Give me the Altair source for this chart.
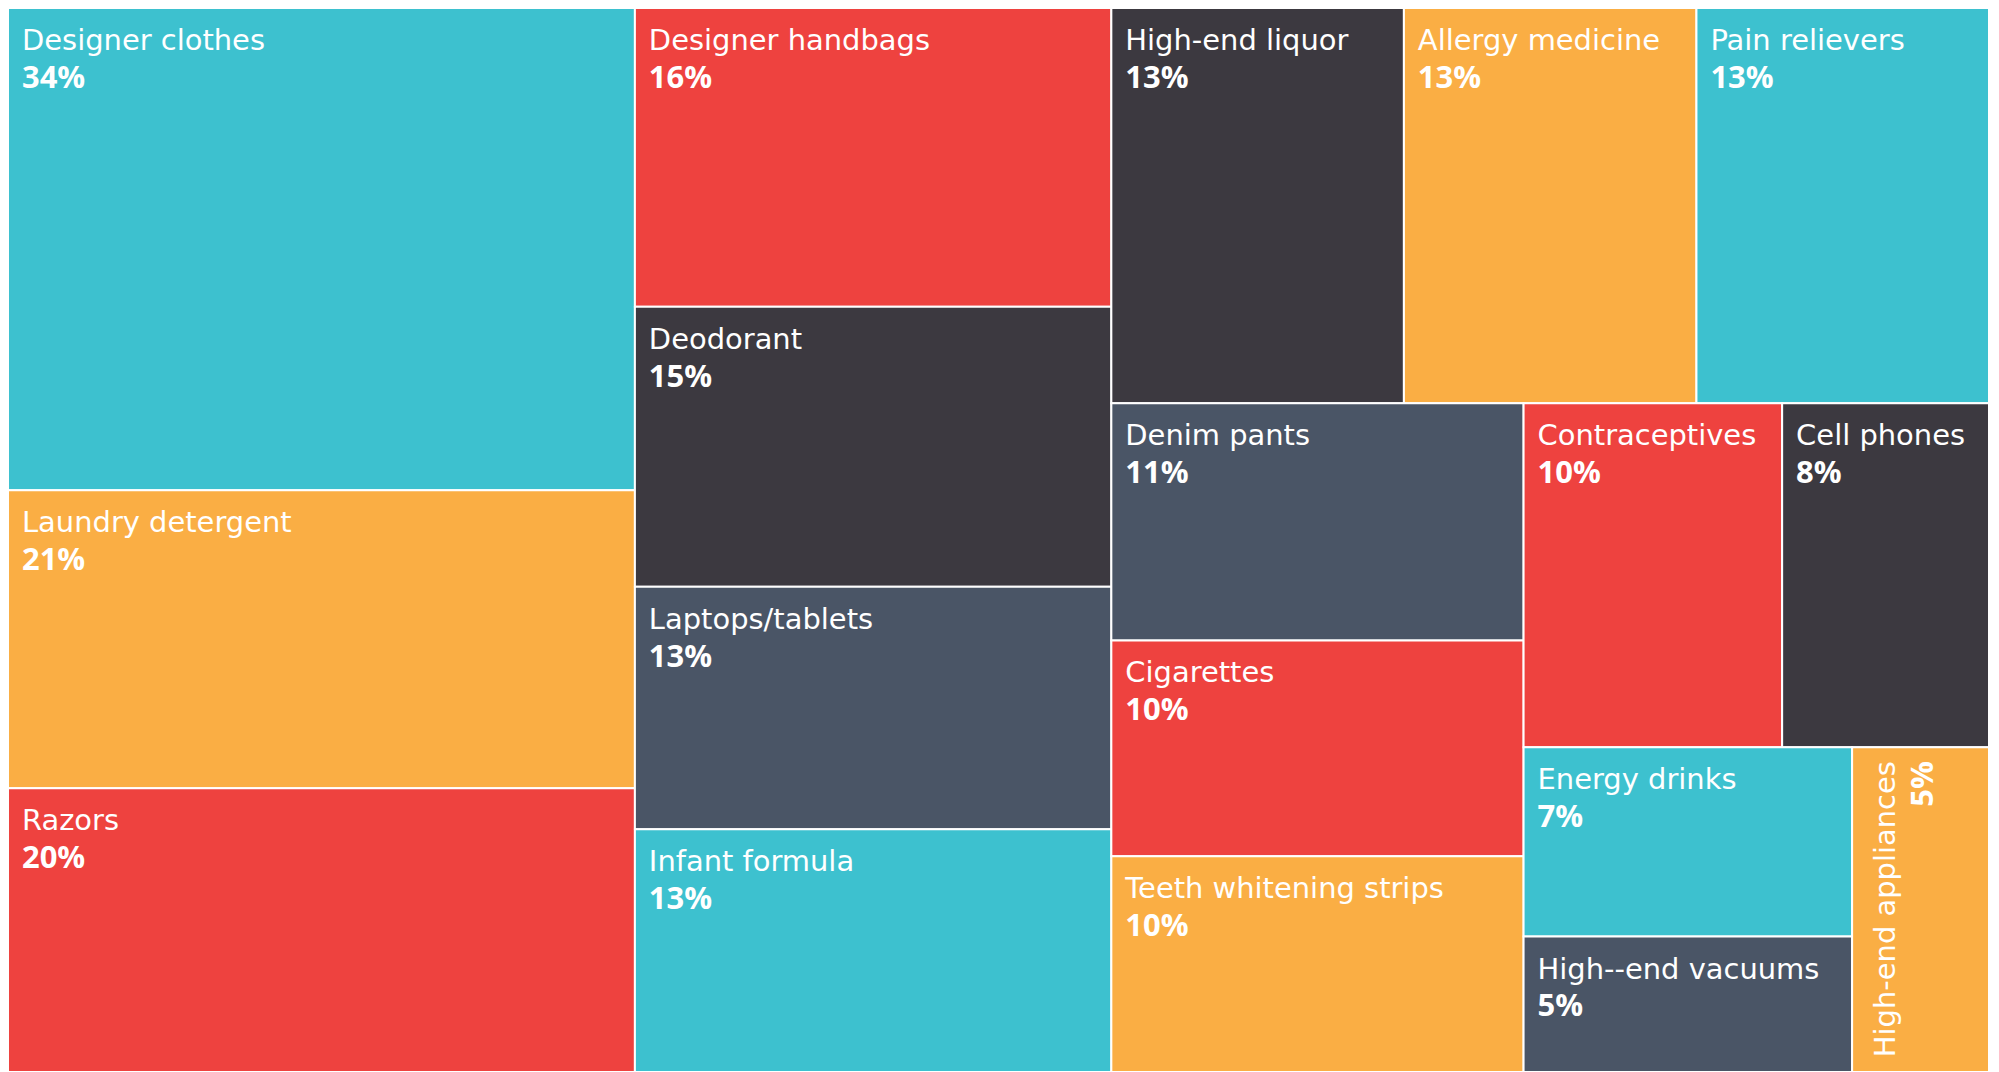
import altair as alt
import pandas as pd

# ---- data ----
names = [
    "Designer clothes", "Laundry detergent", "Razors", "Designer handbags",
    "Deodorant", "Laptops/tablets", "Infant formula", "High-end liquor",
    "Allergy medicine", "Pain relievers", "Denim pants", "Cigarettes",
    "Teeth whitening strips", "Contraceptives", "Cell phones", "Energy drinks",
    "High--end vacuums", "High-end appliances",
]
values = [34, 21, 20, 16, 15, 13, 13, 13, 13, 13, 11, 10, 10, 10, 8, 7, 5, 5]
groups = [
    "teal", "orange", "red", "red", "dark", "slate", "teal", "dark",
    "orange", "teal", "slate", "red", "orange", "red", "dark", "teal",
    "slate", "orange",
]
group_domain = ["teal", "orange", "red", "dark", "slate"]
group_colors = ["#3DC1CF", "#FAAE44", "#EE423F", "#3C3940", "#4A5566"]

W, H = 1985, 1066


def squarify(vals, x0, y0, x1, y1, ratio=(1 + 5 ** 0.5) / 2):
    """d3-style squarified treemap layout."""
    rects = [None] * len(vals)
    value = float(sum(vals))
    n = len(vals)
    i0 = i1 = 0
    while i0 < n:
        dx, dy = x1 - x0, y1 - y0
        sumv = vals[i1]
        i1 += 1
        minv = maxv = sumv
        alpha = max(dy / dx, dx / dy) / (value * ratio)
        beta = sumv * sumv * alpha
        minratio = max(maxv / beta, beta / minv)
        while i1 < n:
            nv = vals[i1]
            s = sumv + nv
            mn, mx = min(minv, nv), max(maxv, nv)
            beta = s * s * alpha
            nr = max(mx / beta, beta / mn)
            if nr > minratio:
                break
            sumv, minv, maxv, minratio = s, mn, mx, nr
            i1 += 1
        row = range(i0, i1)
        if dx < dy:
            ny = y0 + dy * sumv / value if value else y1
            cx = x0
            for i in row:
                w = (x1 - x0) * vals[i] / sumv
                rects[i] = (cx, y0, cx + w, ny)
                cx += w
            y0 = ny
        else:
            nx = x0 + dx * sumv / value if value else x1
            cy = y0
            for i in row:
                h = (y1 - y0) * vals[i] / sumv
                rects[i] = (x0, cy, nx, cy + h)
                cy += h
            x0 = nx
        value -= sumv
        i0 = i1
    return rects


rects = squarify(values, 0, 0, W, H)
df = pd.DataFrame({
    "name": names,
    "value": values,
    "pct": [f"{v}%" for v in values],
    "group": groups,
    "x0": [r[0] for r in rects],
    "y0": [r[1] for r in rects],
    "x1": [r[2] for r in rects],
    "y1": [r[3] for r in rects],
})
df["rot"] = (df["x1"] - df["x0"]) < 180

xs = alt.Scale(domain=[0, W], nice=False, zero=False)
ys = alt.Scale(domain=[0, H], nice=False, zero=False, reverse=True)
NAME_FONT = "DejaVu Sans"
PCT_FONT = "Open Sans"

base = alt.Chart(df)

rect = base.mark_rect(stroke="white", strokeWidth=2).encode(
    x=alt.X("x0:Q", scale=xs, axis=None),
    x2="x1:Q",
    y=alt.Y("y0:Q", scale=ys, axis=None),
    y2="y1:Q",
    color=alt.Color("group:N", scale=alt.Scale(domain=group_domain, range=group_colors), legend=None),
)

enc = dict(x=alt.X("x0:Q", scale=xs, axis=None), y=alt.Y("y0:Q", scale=ys, axis=None))

name_txt = base.transform_filter("!datum.rot").mark_text(
    align="left", baseline="alphabetic", dx=14, dy=42, font=NAME_FONT, fontSize=29,
    fontWeight="normal", color="white",
).encode(text="name:N", **enc)

pct_txt = base.transform_filter("!datum.rot").mark_text(
    align="left", baseline="alphabetic", dx=14, dy=80, font=PCT_FONT, fontSize=31,
    fontWeight="bold", color="white",
).encode(text="pct:N", **enc)

name_rot = base.transform_filter("datum.rot").mark_text(
    align="right", baseline="alphabetic", angle=270, dx=-14, dy=43, font=NAME_FONT,
    fontSize=29, fontWeight="normal", color="white",
).encode(text="name:N", **enc)

pct_rot = base.transform_filter("datum.rot").mark_text(
    align="right", baseline="alphabetic", angle=270, dx=-14, dy=81, font=PCT_FONT,
    fontSize=31, fontWeight="bold", color="white",
).encode(text="pct:N", **enc)

chart = alt.layer(rect, name_txt, pct_txt, name_rot, pct_rot).properties(
    width=W, height=H, padding={"left": -1, "top": -2, "right": 0, "bottom": 0}
).configure_view(stroke=None)

chart.save("out.html", embed_options={"renderer": "svg", "actions": False})
